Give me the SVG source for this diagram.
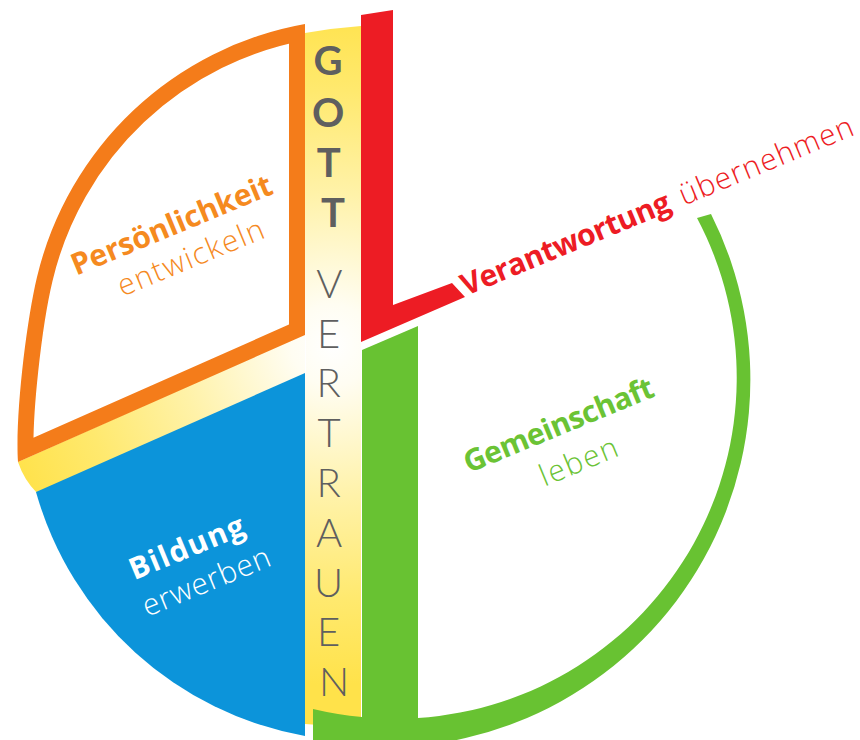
<svg xmlns="http://www.w3.org/2000/svg" width="860" height="740" viewBox="0 0 860 740">
  <style>
    .lbl { font-family: "Open Sans", "Lato", "Liberation Sans", sans-serif; font-size: 30px; text-anchor: middle; }
    .b { font-weight: 700; }
    .l { font-weight: 300; }
    .axis { font-family: "Lato", "Open Sans", "Liberation Sans", sans-serif; font-size: 40px; fill: #5f5f5f; text-anchor: middle; }
    .orange { fill: #f58a1f; }
    .white { fill: #ffffff; }
    .red { fill: #ed1c24; }
    .green { fill: #6bc335; }
  </style>
  <defs>
    <!-- pale glow in the middle of the central strip, fading out to yellow -->
    <radialGradient id="glow" gradientUnits="userSpaceOnUse" cx="332" cy="345" r="340">
      <stop offset="0" stop-color="#ffffff"/>
      <stop offset="0.12" stop-color="#fffdf2"/>
      <stop offset="0.45" stop-color="#fff2a8"/>
      <stop offset="0.75" stop-color="#ffe96e"/>
      <stop offset="1" stop-color="#ffe24a"/>
    </radialGradient>
    <!-- outer edge of the upper-left segment: circular top, fuller lower-left side -->
    <path id="orangeOutline" d="M305,24 A336,336 0 0 0 37,277 C26,323 15,418 18,462 L305,335 Z"/>
    <clipPath id="orangeClip">
      <use href="#orangeOutline"/>
    </clipPath>
  </defs>

  <!-- central strip and the diagonal band between the two left segments -->
  <g id="gott-vertrauen">
    <path fill="url(#glow)" d="M305,33 Q333,28 361,26 L361,728 L305,724 Z M306,333 L18,462 Q24,480 37,493 L306,374 Z"/>
    <text class="axis b">
      <tspan x="333" y="75">G</tspan>
      <tspan x="333" y="127">O</tspan>
      <tspan x="333" y="177">T</tspan>
      <tspan x="333" y="227">T</tspan>
    </text>
    <text class="axis l">
      <tspan x="334" y="298">V</tspan>
      <tspan x="334" y="348">E</tspan>
      <tspan x="334" y="397">R</tspan>
      <tspan x="334" y="447">T</tspan>
      <tspan x="334" y="497">R</tspan>
      <tspan x="334" y="547">A</tspan>
      <tspan x="334" y="597">U</tspan>
      <tspan x="334" y="646">E</tspan>
      <tspan x="334" y="696">N</tspan>
    </text>
  </g>

  <!-- upper left: outlined segment -->
  <g id="persoenlichkeit">
    <use href="#orangeOutline" fill="none" stroke="#f47c1a" stroke-width="32" stroke-linejoin="miter" stroke-miterlimit="10" clip-path="url(#orangeClip)"/>
    <text class="lbl b orange" transform="translate(175.5,234.5) rotate(-22.5)" textLength="215">Persönlichkeit</text>
    <text class="lbl l orange" transform="translate(194.5,267) rotate(-22.5)" textLength="156">entwickeln</text>
  </g>

  <!-- lower left: filled segment -->
  <g id="bildung">
    <path fill="#0c94da" d="M305,373 L36,492 A342,342 0 0 0 305,736 Z"/>
    <text class="lbl b white" transform="translate(190.5,557) rotate(-22.5)" textLength="122">Bildung</text>
    <text class="lbl l white" transform="translate(210,591) rotate(-22.5)" textLength="136">erwerben</text>
  </g>

  <!-- upper right: L-shaped bar -->
  <g id="verantwortung">
    <path fill="#ed1c24" d="M361,15 L393,10 L393,305 L452,283 L465,297 L361,342 Z"/>
    <text class="red b" style="font-family:'Open Sans','Lato','Liberation Sans',sans-serif;font-size:30px" transform="translate(466,296) rotate(-22.5)" textLength="224">Verantwortung</text>
    <text class="red l" style="font-family:'Open Sans','Lato','Liberation Sans',sans-serif;font-size:30px" transform="translate(466,296) rotate(-22.5)" x="236" textLength="186">übernehmen</text>
  </g>

  <!-- lower right: bar with the open ring around it -->
  <g id="gemeinschaft">
    <path fill="#68c232" d="M362,350 L418,326 L418,718 A341,341 0 0 0 697,218 L711,214 A368,368 0 0 1 313,741 L313,709 A341,341 0 0 0 362,717 Z"/>
    <text class="lbl b green" transform="translate(562.5,434.5) rotate(-22.5)" textLength="203">Gemeinschaft</text>
    <text class="lbl l green" transform="translate(582.5,471) rotate(-22.5)" textLength="82">leben</text>
  </g>
</svg>
